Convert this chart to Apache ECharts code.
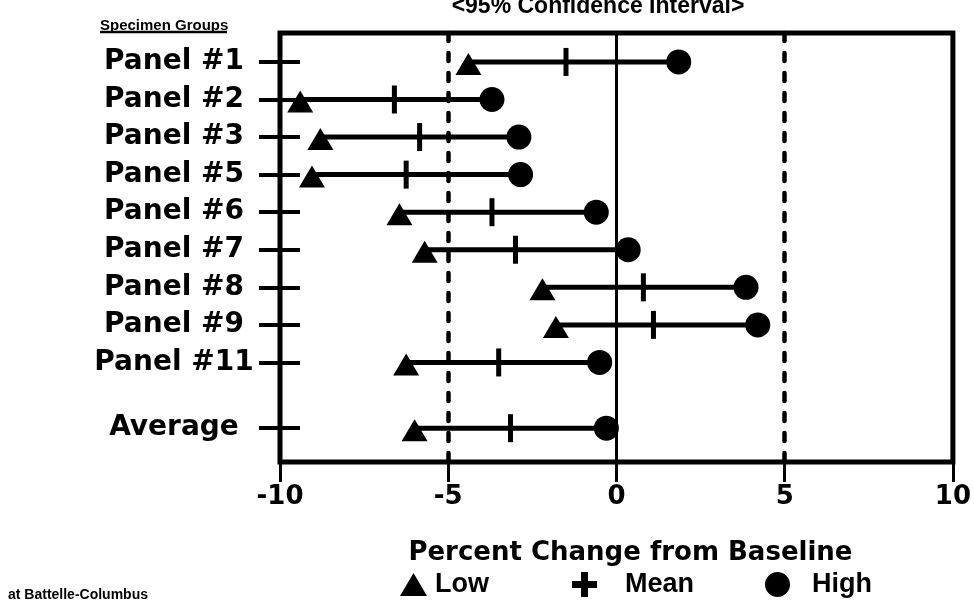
<!DOCTYPE html>
<html>
<head>
<meta charset="utf-8">
<script src="https://cdn.jsdelivr.net/npm/echarts@6/dist/echarts.min.js"></script>
<style>html,body{margin:0;padding:0;background:#fff}#chart{width:974px;height:602px}</style>
</head>
<body>
<div id="chart"></div>
<script>
const categories = ['Panel #1','Panel #2','Panel #3','Panel #5','Panel #6','Panel #7','Panel #8','Panel #9','Panel #11','Average'];
const rowSlots = [1, 2, 3, 4, 5, 6, 7, 8, 9, 10.75];
const lowValues  = [-4.4, -9.4, -8.8, -9.05, -6.45, -5.7, -2.2, -1.8, -6.25, -6.0];
const meanValues = [-1.5, -6.6, -5.85, -6.25, -3.7, -3.0, 0.8, 1.1, -3.5, -3.15];
const highValues = [1.85, -3.7, -2.9, -2.85, -0.6, 0.35, 3.85, 4.2, -0.5, -0.3];
const xTickValues = [-10, -5, 0, 5, 10];
const refLinesDashed = [-5, 5];
const refLineSolid = 0;

const chart = echarts.init(document.getElementById('chart'));
const BOLD = 'DejaVu Sans';
const labelFor = v => {
  let best = 0, d = Infinity;
  rowSlots.forEach((s, i) => { const dd = Math.abs(s - v); if (dd < d) { d = dd; best = i; } });
  return d < 0.01 ? categories[best] : '';
};
const plusPath = 'path://M9,0H16V9H25V16H16V25H9V16H0V9H9Z';

const option = {
  backgroundColor: '#fff',
  animation: false,
  title: [
    { text: '<95% Confidence Interval>', left: 593, textAlign: 'center', top: -10,
      textStyle: { fontFamily: 'Liberation Sans', fontSize: 23, fontWeight: 'bold', color: '#000' } },
    { text: 'Specimen Groups', left: 95, top: 13,
      textStyle: { fontFamily: 'Liberation Sans', fontSize: 15, fontWeight: 'bold', color: '#000' } },
    { text: 'at Battelle-Columbus', left: 3, top: 583,
      textStyle: { fontFamily: 'Liberation Sans', fontSize: 14, fontWeight: 'bold', color: '#000' } }
  ],
  graphic: [
    { type: 'line', z: 100, shape: { x1: 100, y1: 32, x2: 227, y2: 32 }, style: { stroke: '#000', lineWidth: 2.5 } }
  ],
  legend: [
    { left: 395, top: 566, itemWidth: 27, itemHeight: 23, data: [{ name: 'Low', icon: 'triangle' }],
      textStyle: { fontFamily: 'Liberation Sans', fontSize: 27, fontWeight: 'bold', color: '#000', padding: [0, 0, 0, 3] } },
    { left: 567, top: 566, itemWidth: 25, itemHeight: 25, data: [{ name: 'Mean', icon: plusPath }],
      textStyle: { fontFamily: 'Liberation Sans', fontSize: 27, fontWeight: 'bold', color: '#000', padding: [0, 0, 0, 23] } },
    { left: 760, top: 566, itemWidth: 25, itemHeight: 25, data: [{ name: 'High', icon: 'circle' }],
      textStyle: { fontFamily: 'Liberation Sans', fontSize: 27, fontWeight: 'bold', color: '#000', padding: [0, 0, 0, 17] } }
  ],
  grid: { left: 280, right: 19, top: 33, bottom: 140, show: true, borderColor: '#000', borderWidth: 5, backgroundColor: 'transparent' },
  xAxis: {
    type: 'value', min: -10, max: 10, interval: 5,
    axisLine: { show: false, onZero: false },
    axisTick: { show: true, length: 20, lineStyle: { color: '#000', width: 3 } },
    axisLabel: { margin: 22, fontFamily: BOLD, fontWeight: 'bold', fontSize: 26, color: '#000',
      formatter: v => (xTickValues.indexOf(v) >= 0 ? String(v) : '') },
    splitLine: { show: false },
    name: 'Percent Change from Baseline', nameLocation: 'middle', nameGap: 78,
    nameTextStyle: { fontFamily: BOLD, fontWeight: 'bold', fontSize: 26, color: '#000', padding: [0, 0, 0, 28] }
  },
  yAxis: [
    { type: 'value', inverse: true, min: 0.23, max: 11.65, position: 'left',
      axisLine: { show: false, onZero: false }, splitLine: { show: false },
      axisTick: { show: true, customValues: rowSlots, length: 21, lineStyle: { color: '#000', width: 4 } },
      axisLabel: { show: true, customValues: rowSlots, formatter: labelFor, align: 'center', margin: 106,
        fontFamily: BOLD, fontWeight: 'bold', fontSize: 28, color: '#000' } },
    { type: 'value', inverse: true, min: 0.23, max: 11.65, position: 'left',
      axisLine: { show: false, onZero: false }, splitLine: { show: false },
      axisTick: { show: true, inside: true, customValues: rowSlots, length: 20, lineStyle: { color: '#000', width: 4 } },
      axisLabel: { show: false } }
  ],
  series: [
    {
      name: 'range', type: 'custom', yAxisIndex: 0,
      data: rowSlots.map((s, i) => [s, lowValues[i], highValues[i]]),
      encode: { x: [1, 2], y: 0 },
      renderItem: (params, api) => {
        const a = api.coord([api.value(1), api.value(0)]);
        const b = api.coord([api.value(2), api.value(0)]);
        return { type: 'line', shape: { x1: a[0], y1: a[1], x2: b[0], y2: b[1] },
          style: { stroke: '#000', lineWidth: 5 } };
      },
      markLine: {
        silent: true, symbol: ['none', 'none'], label: { show: false },
        data: [
          ...refLinesDashed.map(v => ({ xAxis: v, lineStyle: { color: '#000', width: 4.5, type: [8, 12], cap: 'round', opacity: 1 } })),
          { xAxis: refLineSolid, lineStyle: { color: '#000', width: 3, type: 'solid', opacity: 1 } }
        ]
      },
      z: 2
    },
    { name: 'Low', type: 'scatter', symbol: 'triangle', symbolSize: [26, 22], symbolOffset: [0, 2],
      itemStyle: { color: '#000', opacity: 1 }, data: lowValues.map((v, i) => [v, rowSlots[i]]), z: 3 },
    { name: 'Mean', type: 'scatter', symbol: 'rect', symbolSize: [5, 28],
      itemStyle: { color: '#000', opacity: 1 }, data: meanValues.map((v, i) => [v, rowSlots[i]]), z: 3 },
    { name: 'High', type: 'scatter', symbol: 'circle', symbolSize: 25,
      itemStyle: { color: '#000', opacity: 1 }, data: highValues.map((v, i) => [v, rowSlots[i]]), z: 3 }
  ]
};
chart.setOption(option);
</script>
</body>
</html>
